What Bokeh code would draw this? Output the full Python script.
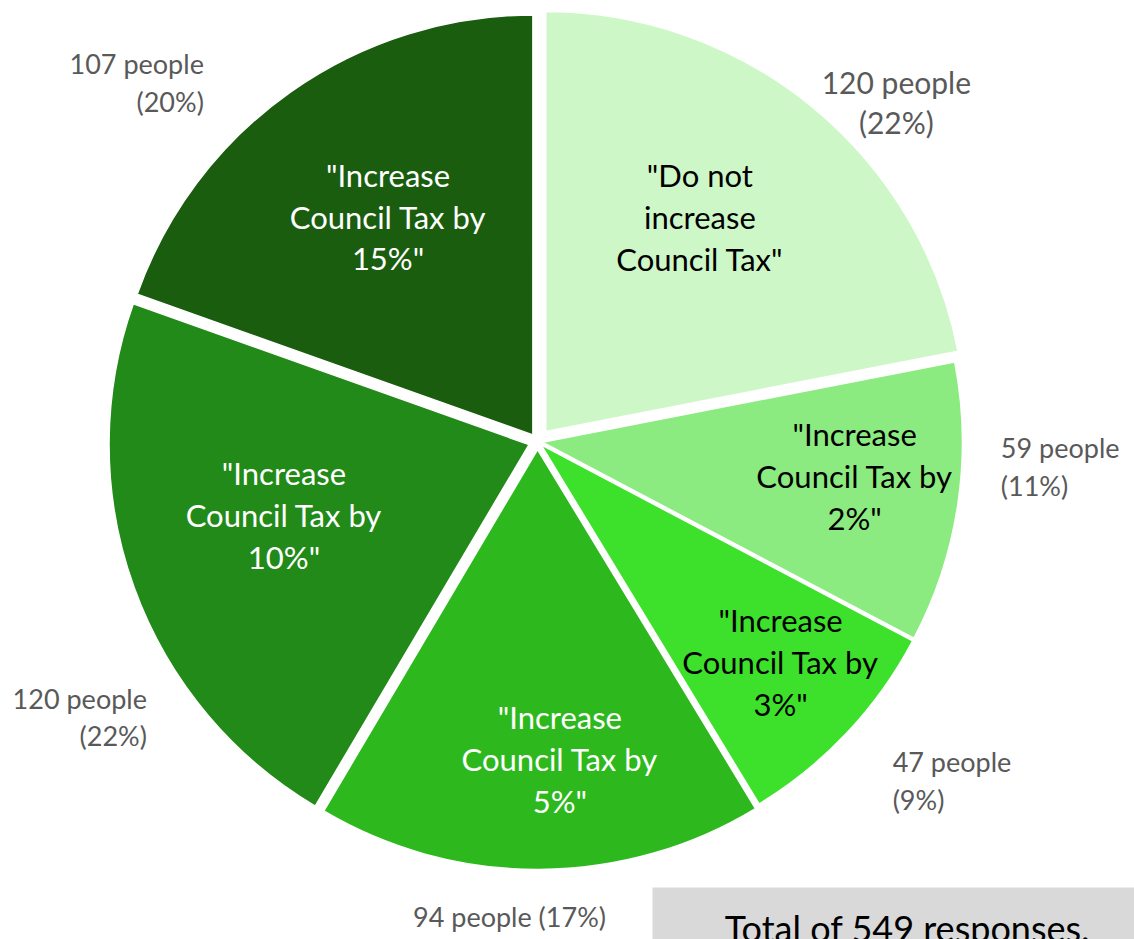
import math
from bokeh.plotting import figure
from bokeh.models import Range1d, ColumnDataSource
from bokeh.core.properties import value
from bokeh.embed import file_html
from bokeh.resources import INLINE

# ---- data ----
categories = ['"Do not\nincrease\nCouncil Tax"',
              '"Increase\nCouncil Tax by\n2%"',
              '"Increase\nCouncil Tax by\n3%"',
              '"Increase\nCouncil Tax by\n5%"',
              '"Increase\nCouncil Tax by\n10%"',
              '"Increase\nCouncil Tax by\n15%"']
people = [120, 59, 47, 94, 120, 107]
percent = [22, 11, 9, 17, 22, 20]
total_responses = 549

# ---- style ----
colors = ["#CEF7C8", "#8CEB80", "#3DE12B", "#2DB91D", "#228A18", "#1A5D0F"]
inner_colors = ["#000000", "#000000", "#000000", "#FFFFFF", "#FFFFFF", "#FFFFFF"]
explode = [13, 5, 5, 8, 9, 8]
inner_dist = [277, 319, 328, 318, 264, 270]
inner_shift = [-3.6, -2.2, -1.1, -3.7, 3.7, 1.6]
outer_dist = [494, 464, 491, 476, 478, 490]
outer_shift = [7.1, -5.3, 0.4, 3.7, -15.3, -7.7]
outer_align = ["center", "left", "left", "center", "right", "right"]
outer_sep = ["\n", "\n", "\n", " ", "\n", "\n"]
outer_size = ["30px", "27px", "27px", "27px", "27px", "27px"]

W, H = 1134, 939
CX, CY = 537, 939 - 441   # pie centre (data units = pixels)
R = 420

p = figure(width=W, height=H, output_backend="svg", toolbar_location=None,
           x_range=Range1d(0, W), y_range=Range1d(0, H),
           min_border=0)
p.axis.visible = False
p.grid.visible = False
p.outline_line_color = None
p.background_fill_color = "white"
p.border_fill_color = "white"

total = sum(people)
cum = 0.0
xs, ys, sa, ea, bis = [], [], [], [], []
for i, n in enumerate(people):
    a0 = cum / total * 360.0
    cum += n
    a1 = cum / total * 360.0
    mid = (a0 + a1) / 2.0
    m = math.radians(90 - mid)
    xs.append(CX + explode[i] * math.cos(m))
    ys.append(CY + explode[i] * math.sin(m))
    sa.append(math.radians(90 - a1))
    ea.append(math.radians(90 - a0))
    bis.append(mid)

src = ColumnDataSource(dict(x=xs, y=ys, start=sa, end=ea, color=colors))
p.wedge(x="x", y="y", radius=R, start_angle="start", end_angle="end",
        fill_color="color", line_color="white", line_width=1.5, source=src)

# inner labels
ix, iy = [], []
for i in range(len(people)):
    m = math.radians(90 - (bis[i] + inner_shift[i]))
    ix.append(CX + inner_dist[i] * math.cos(m))
    iy.append(CY + inner_dist[i] * math.sin(m))
p.text(x=ix, y=iy, text=categories, text_align="center", text_baseline="middle",
       text_font=value("Lato"), text_font_size="31px", text_color=inner_colors,
       text_line_height=1.1)

# outer labels
for i in range(len(people)):
    m = math.radians(90 - (bis[i] + outer_shift[i]))
    ox = CX + outer_dist[i] * math.cos(m)
    oy = CY + outer_dist[i] * math.sin(m)
    txt = f"{people[i]} people{outer_sep[i]}({percent[i]}%)"
    p.text(x=[ox], y=[oy], text=[txt], text_align=outer_align[i],
           text_baseline="middle", text_font=value("Lato"),
           text_font_size=outer_size[i], text_color="#595959",
           text_line_height=1.13)

# total box
p.quad(left=[652], right=[1200], top=[939 - 887], bottom=[-50],
       fill_color="#D9D9D9", line_color=None)
p.text(x=[907], y=[939 - 905], text=[f"Total of {total_responses} responses."],
       text_align="center", text_baseline="top", text_font=value("Lato"),
       text_font_size="36px", text_color="#000000")

open("out.html", "w").write(file_html(p, INLINE))
